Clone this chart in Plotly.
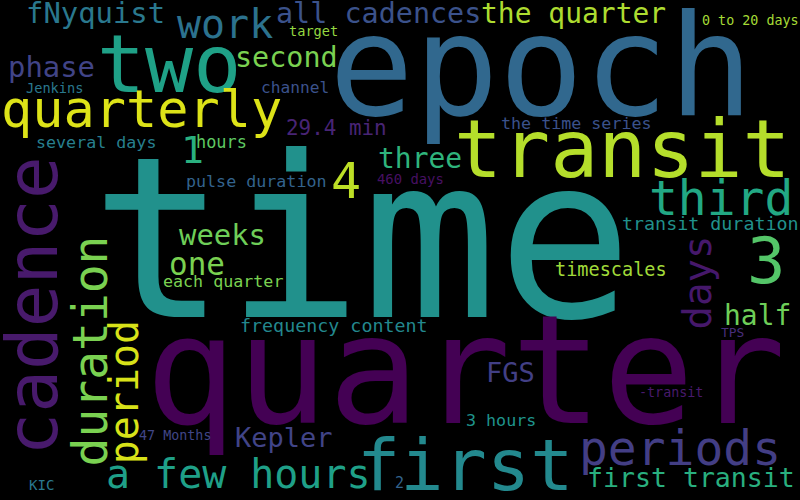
import plotly.graph_objects as go

# word cloud: words and their relative weight (1.0 = biggest word)
words = ["time", "epoch", "quarter", "transit", "two", "quarterly", "first", "periods",
         "third", "a few hours", "4", "3", "work", "fNyquist", "all cadences", "the quarter",
         "phase", "second", "29.4 min", "three", "weeks", "one", "half", "Kepler", "FGS",
         "first transit", "transit duration", "frequency content", "timescales",
         "pulse duration", "the time series", "several days", "each quarter", "hours",
         "3 hours", "channel", "target", "Jenkins", "0 to 20 days", "460 days",
         "47 Months", "-transit", "TPS", "KIC", "2", "1",
         "cadence", "duration", "period", "days"]
weights = [0.957, 0.6, 0.647, 0.34, 0.34, 0.221, 0.306, 0.204,
           0.204, 0.17, 0.213, 0.272, 0.17, 0.123, 0.121, 0.119,
           0.123, 0.121, 0.089, 0.119, 0.123, 0.132, 0.119, 0.115, 0.115,
           0.113, 0.078, 0.078, 0.079,
           0.071, 0.071, 0.071, 0.071, 0.072,
           0.071, 0.069, 0.058, 0.058, 0.057, 0.059,
           0.057, 0.057, 0.055, 0.06, 0.064, 0.162,
           0.302, 0.204, 0.17, 0.166]

MAX_FONT = 235

# placement: horizontal words -> (center x, baseline y); vertical -> (baseline x, center y)
pos_x = [362, 541, 465, 622, 169, 141, 465, 680,
         721, 238, 346, 766, 225, 95, 378, 573,
         51, 286, 336, 420, 222, 197, 757, 284, 510,
         691, 710, 334, 611,
         256, 576, 96, 223, 221,
         501, 295, 313, 54, 750, 410,
         175, 671, 732, 41, 399, 192,
         57, 107, 138, 710]
pos_y = [317, 115, 423, 177, 92, 127, 490, 465,
         215, 488, 198, 283, 38, 23, 23, 23,
         77, 67, 135, 168, 245, 275, 325, 447, 382,
         487, 230, 332, 276,
         187, 129, 148, 287, 148,
         426, 93, 36, 93, 25, 184,
         440, 397, 337, 490, 488, 163,
         306, 351, 392, 283]
vertical = ["cadence", "duration", "period", "days"]
colors = ["#21918c", "#31688e", "#440154", "#b5de2b", "#1fa187", "#dde318", "#23898e", "#433e85",
          "#22a884", "#1fa088", "#bddf26", "#54c568", "#2c728e", "#2a788e", "#3b528b", "#addc30",
          "#414487", "#7ad151", "#482475", "#2fb47c", "#6ece58", "#7ad151", "#6ece58", "#414487", "#423f85",
          "#29af7f", "#21918c", "#23888e", "#a0da39",
          "#33638d", "#3b528b", "#277f8e", "#7ad151", "#5ec962",
          "#1f948c", "#3b528b", "#95d840", "#2a788e", "#a5db36", "#471063",
          "#404688", "#481a6c", "#472d7b", "#2a788e", "#33638d", "#2ab07f",
          "#481a6c", "#7ad151", "#d8e219", "#46186b"]

fig = go.Figure()
fig.add_trace(go.Scatter(x=[0, 800], y=[0, 500], mode="markers",
                         marker=dict(opacity=0), hoverinfo="skip", showlegend=False))

for w, wt, px, py, c in zip(words, weights, pos_x, pos_y, colors):
    s = wt * MAX_FONT
    shift = 0.346 * s  # baseline -> middle of text box
    if w in vertical:
        fig.add_annotation(x=px - shift, y=py, text=w, textangle=-90,
                           showarrow=False, xanchor="center", yanchor="middle",
                           font=dict(family="DejaVu Sans Mono", size=s, color=c))
    else:
        fig.add_annotation(x=px, y=py - shift, text=w,
                           showarrow=False, xanchor="center", yanchor="middle",
                           font=dict(family="DejaVu Sans Mono", size=s, color=c))

fig.update_xaxes(range=[0, 800], visible=False, fixedrange=True)
fig.update_yaxes(range=[500, 0], visible=False, fixedrange=True)
fig.update_layout(width=800, height=500, margin=dict(l=0, r=0, t=0, b=0),
                  paper_bgcolor="black", plot_bgcolor="black")

fig.write_html("out.html", config={"displayModeBar": False},
               post_script="document.body.style.margin='0px';")
